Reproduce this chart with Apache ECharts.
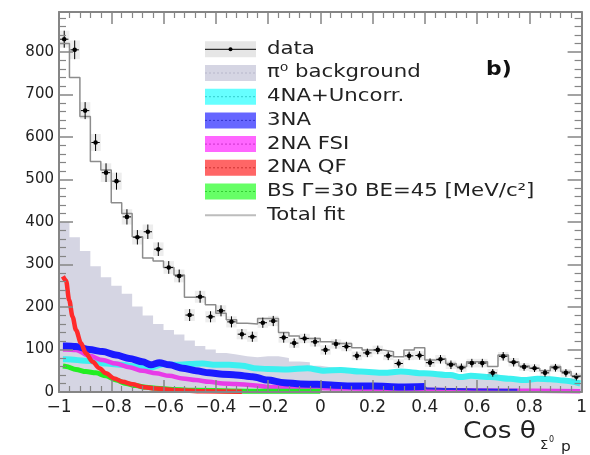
<!DOCTYPE html>
<html><head><meta charset="utf-8">
<script src="https://cdn.jsdelivr.net/npm/echarts@6/dist/echarts.min.js"></script>
<style>html,body{margin:0;padding:0;background:#fff}#c{width:590px;height:455px}</style>
</head><body><div id="c"></div>
<script>
// ---- binning of the histogram (50 bins over cos theta) ----
const xMin = -1, binW = 0.04;
// ---- data points (counts) and their errors ----
const dataVals = [830,805,662,587,516,496,412,364,377,336,293,273,181,224,177,191,165,136,130,163,167,128,115,126,118,99,113,107,85,92,99,85,67,85,86,69,77,64,57,68,68,45,84,70,59,56,45,57,45,36];
const dataErr  = [20,22,20,20,22,20,18,17,17,16,15,15,14,14,13,13,13,12,12,12,12,12,11,11,11,11,11,11,10,10,10,10,10,10,10,10,10,10,10,10,10,9,10,10,9,9,9,9,9,9];
// ---- total fit histogram ----
const fitTotal = [820,740,648,542,522,445,420,365,315,308,293,275,223,223,205,185,170,162,160,173,173,140,132,126,126,118,114,114,104,99,99,95,83,99,104,75,79,67,60,71,71,60,87,71,61,56,50,60,48,38];
// ---- pi0 background histogram ----
const bkgPi0 = [400,364,332,296,270,250,231,201,180,160,146,135,121,108,100,92,88,84,82,84,84,80,72,70,62,58,55,54,52,50,49,48,47,45,45,44,43,42,40,40,38,37,36,34,32,32,30,28,26,22];
// ---- fitted components (cos theta, counts) ----
const curve4NA = [[-0.985,77],[-0.973,77],[-0.884,73],[-0.820,67],[-0.756,64],[-0.706,60],[-0.655,57],[-0.603,65],[-0.553,64],[-0.502,66],[-0.450,67],[-0.400,64],[-0.349,64],[-0.298,62],[-0.253,56],[-0.202,54],[-0.125,53],[-0.049,56],[0.015,50],[0.078,52],[0.155,48],[0.244,45],[0.308,48],[0.397,44],[0.499,40],[0.537,35],[0.576,38],[0.652,35],[0.728,31],[0.779,28],[0.831,31],[0.881,30],[0.932,27],[0.995,20]];
const curve3NA = [[-0.985,108],[-0.973,108],[-0.935,107],[-0.884,100],[-0.833,95],[-0.782,87],[-0.731,79],[-0.680,71],[-0.648,64],[-0.616,69],[-0.578,64],[-0.527,56],[-0.476,50],[-0.425,45],[-0.374,42],[-0.323,40],[-0.259,36],[-0.202,28],[-0.138,22],[-0.075,19],[-0.011,18],[0.053,16],[0.117,14],[0.206,14],[0.308,12],[0.400,13]];
const curve3NAtail = [[0.400,13],[0.407,8],[0.499,7],[0.614,6],[0.754,5]];
const curve2NAFSI = [[-0.985,100],[-0.973,100],[-0.935,99],[-0.884,85],[-0.833,75],[-0.782,67],[-0.731,58],[-0.680,50],[-0.629,44],[-0.578,38],[-0.527,32],[-0.476,28],[-0.425,24],[-0.374,20],[-0.323,19],[-0.259,16],[-0.202,12],[-0.140,11],[-0.075,10],[0.117,8],[0.346,5],[0.690,3],[0.995,2]];
const curve2NAQF = [[-0.985,272],[-0.973,262],[-0.961,216],[-0.948,177],[-0.935,146],[-0.916,115],[-0.897,91],[-0.871,71],[-0.846,56],[-0.820,44],[-0.789,32],[-0.756,24],[-0.718,18],[-0.680,12],[-0.629,8],[-0.550,4],[-0.450,1.5],[-0.300,0.5]];
const curveBS = [[-0.985,61],[-0.973,60],[-0.935,53],[-0.897,48],[-0.859,45],[-0.820,38],[-0.782,28],[-0.744,20],[-0.706,15],[-0.667,11],[-0.629,9],[-0.565,6],[-0.476,4],[-0.270,2],[0.000,1.5]];
// ---- axis ----
const xTicks = {min:-1, max:1, interval:0.2};
const yTicks = {min:0, max:894, interval:100};
const legendItems = ['data','π⁰ background','4NA+Uncorr.','3NA','2NA FSI','2NA QF','BS Γ=30 BE=45 [MeV/c²]','Total fit'];

function stepData(arr){
  const out = arr.map((v,i)=>[xMin + i*binW, v]);
  out.push([xMin + arr.length*binW, arr[arr.length-1]]);
  return out;
}
const pts = dataVals.map((v,i)=>[xMin + (i+0.5)*binW, v, dataErr[i]]);

const chart = echarts.init(document.getElementById('c'), null, {renderer:'canvas'});
const axisCol = '#858585';
const labFont = 'DejaVu Sans';
function fmtX(v){ const n = parseFloat(Number(v).toFixed(1)); return (n<0?'\u2212':'') + Math.abs(n); }

function xAx(pos, showLab){
  return {type:'value', position:pos, min:xTicks.min, max:xTicks.max, interval:xTicks.interval, z:10,
    axisLine:{show:true, onZero:false, lineStyle:{color:axisCol, width:2}},
    axisTick:{show:true, inside:true, length:12, lineStyle:{color:axisCol, width:1.5}},
    minorTick:{show:true, splitNumber:5, length:6, lineStyle:{color:axisCol, width:1.2}},
    splitLine:{show:false}, minorSplitLine:{show:false},
    axisLabel:{show:showLab, formatter:fmtX, fontFamily:labFont, fontSize:17, color:'#222', margin:7}};
}
function yAx(pos, showLab){
  return {type:'value', position:pos, min:yTicks.min, max:yTicks.max, interval:yTicks.interval, z:10,
    axisLine:{show:true, onZero:false, lineStyle:{color:axisCol, width:2}},
    axisTick:{show:true, inside:true, length:14, lineStyle:{color:axisCol, width:1.5}},
    minorTick:{show:true, splitNumber:5, length:7, lineStyle:{color:axisCol, width:1.2}},
    splitLine:{show:false}, minorSplitLine:{show:false},
    axisLabel:{show:showLab, showMaxLabel:false, fontFamily:labFont, fontSize:15, color:'#222', margin:5}};
}
function band(data, color, w, z){
  return {type:'line', data:data, smooth:0.3, smoothMonotone:'x', symbol:'none', z:z,
    lineStyle:{color:color, width:w, cap:'butt'}, animation:false, silent:true};
}

// legend graphics
const legX = 205, legW = 51, legH = 16, legY0 = 49.3, legDy = 23.7, txtX = 267;
const legFill = ['#e6e6e6','#d5d5e3','#66ffff','#6666ff','#ff66ff','#ff6666','#66ff66',null];
const legDash = [null,'#b8b8cc','#33cccc','#3333cc','#cc33cc','#cc3333','#33cc33',null];
const g = [];
legendItems.forEach((t,i)=>{
  const cy = legY0 + i*legDy;
  if (legFill[i]) g.push({type:'rect', shape:{x:legX, y:cy-legH/2, width:legW, height:legH}, style:{fill:legFill[i]}});
  if (legDash[i]) g.push({type:'line', shape:{x1:legX, y1:cy, x2:legX+legW, y2:cy}, style:{stroke:legDash[i], lineWidth:1, lineDash:[2,2]}});
  if (i===0){
    g.push({type:'line', shape:{x1:legX, y1:cy, x2:legX+legW, y2:cy}, style:{stroke:'#000', lineWidth:1}});
    g.push({type:'circle', shape:{cx:legX+legW/2, cy:cy, r:2}, style:{fill:'#000'}});
  }
  if (i===7) g.push({type:'line', shape:{x1:legX, y1:cy, x2:legX+legW, y2:cy}, style:{stroke:'#bdbdbd', lineWidth:2}});
  g.push({type:'text', x:txtX, y:cy, scaleX:1.25, style:{text:t, x:0, y:0, fontFamily:labFont, fontSize:17, fill:'#222', textVerticalAlign:'middle'}});
});
g.push({type:'text', x:486, y:70, scaleX:1.15, style:{text:'b)', x:0, y:0, fontFamily:labFont, fontWeight:'bold', fontSize:19, fill:'#111', textVerticalAlign:'middle'}});
g.push({type:'text', x:463, y:432, scaleX:1.15, style:{text:'Cos θ', x:0, y:0, fontFamily:labFont, fontSize:23, fill:'#222', textVerticalAlign:'middle'}});
g.push({type:'text', x:540, y:446, style:{text:'Σ', x:0, y:0, fontFamily:labFont, fontSize:13, fill:'#222', textVerticalAlign:'middle'}});
g.push({type:'text', x:549, y:440, style:{text:'0', x:0, y:0, fontFamily:labFont, fontSize:8, fill:'#222', textVerticalAlign:'middle'}});
g.push({type:'text', x:561, y:447, scaleX:1.1, style:{text:'p', x:0, y:0, fontFamily:labFont, fontSize:14, fill:'#222', textVerticalAlign:'middle'}});

chart.setOption({
  animation:false,
  backgroundColor:'#fff',
  grid:{left:59, right:8, top:12, bottom:63, containLabel:false},
  xAxis:[xAx('bottom', true), xAx('top', false)],
  yAxis:[yAx('left', true), yAx('right', false)],
  graphic:g,
  series:[
    {type:'line', name:'pi0', data:stepData(bkgPi0), step:'end', symbol:'none', z:1,
      lineStyle:{width:0}, areaStyle:{color:'#d5d5e3', opacity:1}, silent:true},
    band(curve4NA, '#3cf0f0', 6, 2),
    band(curve2NAFSI, '#e83ce8', 4.5, 3),
    band(curve3NA, '#1a1aff', 7, 4),
    band(curve3NAtail, '#2a2ae8', 2, 4),
    band(curveBS, '#22ee22', 5, 5),
    band(curve2NAQF, '#ff2a2a', 4.5, 6),
    {type:'line', name:'fit', data:stepData(fitTotal), step:'end', symbol:'none', z:7,
      lineStyle:{color:'#8c8c8c', width:1.5}, silent:true},
    {type:'custom', name:'data', data:pts, z:8, encode:{x:0, y:1}, silent:true,
      renderItem:function(params, api){
        const x = api.value(0), y = api.value(1), e = api.value(2);
        const c = api.coord([x,y]);
        const lb = api.coord([x-binW/2, y-e]), rt = api.coord([x+binW/2, y+e]);
        const hl = api.coord([x-0.016, y])[0], hr = api.coord([x+0.016, y])[0];
        return {type:'group', children:[
          {type:'rect', shape:{x:lb[0], y:rt[1], width:rt[0]-lb[0], height:lb[1]-rt[1]}, style:{fill:'rgba(140,140,140,0.16)'}},
          {type:'line', shape:{x1:c[0], y1:rt[1], x2:c[0], y2:lb[1]}, style:{stroke:'#000', lineWidth:1}},
          {type:'line', shape:{x1:hl, y1:c[1], x2:hr, y2:c[1]}, style:{stroke:'#000', lineWidth:1}},
          {type:'circle', shape:{cx:c[0], cy:c[1], r:2.3}, style:{fill:'#000'}}
        ]};
      }}
  ]
});
</script></body></html>
